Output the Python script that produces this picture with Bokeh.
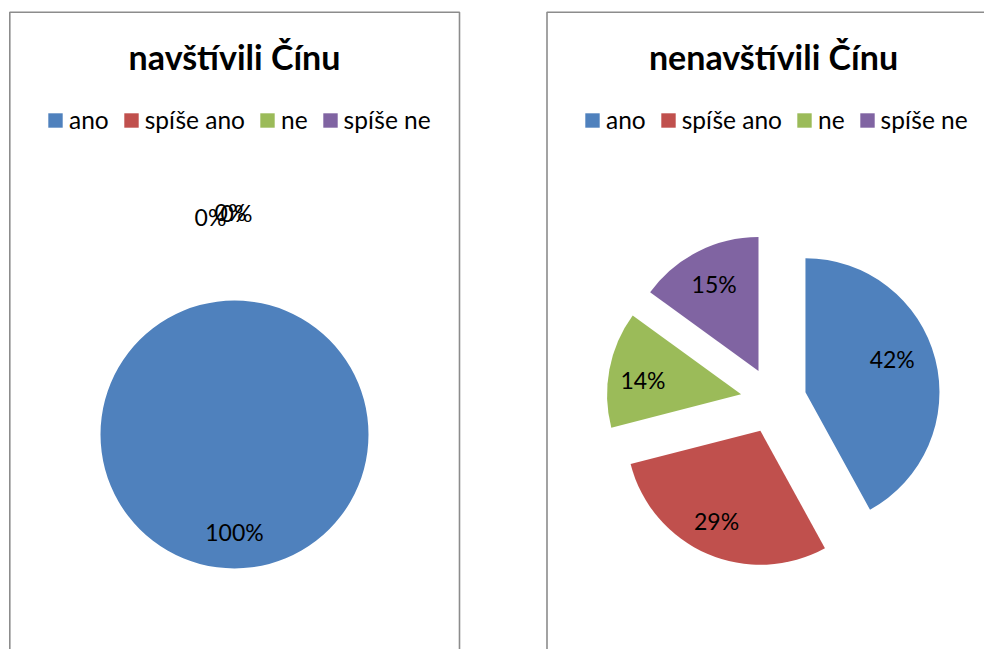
import math
from bokeh.plotting import figure
from bokeh.models import ColumnDataSource, Range1d, Legend, LegendItem
from bokeh.core.properties import value
from bokeh.embed import file_html
from bokeh.resources import INLINE

# ---------------- data ----------------
categories = ["ano", "spíše ano", "ne", "spíše ne"]
colors = ["#4F81BD", "#C0504D", "#9BBB59", "#8064A2"]
titles = ["navštívili Čínu", "nenavštívili Čínu"]
visited = [100, 0, 0, 0]
not_visited = [42, 29, 14, 15]

# ---------------- layout (screen pixels) ----------------
W, H = 984, 649
FONT = "Lato"

def dy(screen_y):
    # data y coordinate for a given page (screen) y
    return H - screen_y

pies = [
    dict(values=visited, title=titles[0], cx=234, cy=434, r=134, explode=0,
         panel=(9.3, 459.0), legend_x=46,
         nudges=[(0, 0), (-24, -218), (-4, -223), (2, -222)], absolute=[False, True, True, True]),
    dict(values=not_visited, title=titles[1], cx=773, cy=400, r=134, explode=33,
         panel=(546.5, 1010.0), legend_x=583,
         nudges=[(-8, -9), (-5, 0), (-2, 4), (0, 0)], absolute=[False] * 4),
]

p = figure(width=W, height=H, output_backend="svg", toolbar_location=None,
           x_range=Range1d(0, W), y_range=Range1d(0, H),
           min_border=0, min_border_left=0, min_border_right=0,
           min_border_top=0, min_border_bottom=0)
p.axis.visible = False
p.grid.visible = False
p.outline_line_color = None
p.background_fill_color = "white"
p.border_fill_color = "white"

# panel frames
for pie in pies:
    l, rr = pie["panel"]
    p.quad(left=[l], right=[rr], top=[dy(11.8)], bottom=[dy(900)],
           fill_color=None, line_color="#8c8c8c", line_width=1.6)

for pie in pies:
    vals = pie["values"]
    total = float(sum(vals))
    cx, cy, r, d = pie["cx"], dy(pie["cy"]), pie["r"], pie["explode"]
    xs, ys, starts, ends, mids, radii = [], [], [], [], [], []
    cum = 0.0
    for v in vals:
        span = v / total * 2 * math.pi
        start = math.pi / 2 - cum / total * 2 * math.pi
        end = start - min(span, 2 * math.pi - 1e-6)
        mid = start - span / 2
        cum += v
        xs.append(cx + d * math.cos(mid))
        ys.append(cy + d * math.sin(mid))
        starts.append(start)
        ends.append(end)
        mids.append(mid)
        radii.append(r if v > 0 else 0)
    src = ColumnDataSource(dict(x=xs, y=ys, start=starts, end=ends, color=colors,
                                cat=categories, radius=radii))
    wr = p.wedge(x="x", y="y", radius="radius", start_angle="start", end_angle="end",
                 direction="clock", fill_color="color", line_color=None, source=src)

    # data labels
    lx, ly, lt = [], [], []
    for i, v in enumerate(vals):
        nx, ny = pie["nudges"][i]
        if pie["absolute"][i]:
            x = cx + nx
            y = cy - ny
        else:
            lr = 0.73 * r
            x = xs[i] + lr * math.cos(mids[i]) + nx
            y = ys[i] + lr * math.sin(mids[i]) - ny
        lx.append(x)
        ly.append(y)
        lt.append(f"{round(v / total * 100)}%")
    p.text(x=lx, y=ly, text=lt, text_font=value(FONT), text_font_size="23px",
           text_color="black", text_align="center", text_baseline="middle")

    # title
    p.text(x=[pie["cx"]], y=[dy(56)], text=[pie["title"]], text_font=value(FONT),
           text_font_size="34px", text_font_style="bold", text_color="black",
           text_align="center", text_baseline="middle")

    legend = Legend(
        items=[LegendItem(label=c, renderers=[wr], index=i) for i, c in enumerate(categories)],
        orientation="horizontal", location=(pie["legend_x"], 515),
        glyph_width=18, glyph_height=18, label_standoff=5, spacing=13,
        padding=0, margin=0, border_line_alpha=0, background_fill_alpha=0,
        label_text_font=FONT, label_text_font_size="24.5px", label_text_color="black",
    )
    p.add_layout(legend)

open("out.html", "w").write(file_html(p, INLINE))
